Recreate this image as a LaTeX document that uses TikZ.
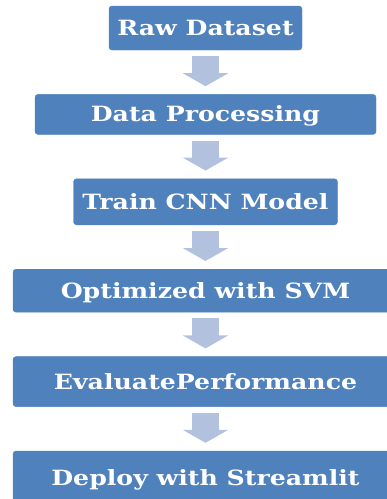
\documentclass[tikz,border=0pt]{standalone}
\usepackage{fontspec}
\setmainfont{DejaVu Serif}[FakeStretch=1.2]
\usepackage{tikz}
\usetikzlibrary{arrows.meta, positioning}
\definecolor{boxblue}{RGB}{79,129,189}
\definecolor{arrowblue}{RGB}{178,194,222}

\begin{document}
\begin{tikzpicture}[x=1pt, y=1pt, node distance=44pt]
        % --- styles ---
        \tikzstyle{stage} = [
            rectangle,
            rounded corners=3pt,
            draw=boxblue,
            fill=boxblue,
            text=white,
            font=\bfseries\fontsize{21}{25}\selectfont,
            text height=15pt,
            text depth=0pt,
            inner sep=0pt,
            align=center
        ]
        \tikzstyle{bigarrow} = [line width=27pt, arrowblue, -{Triangle[width=45pt,length=13pt]}, shorten <=6pt, shorten >=8pt]

        \useasboundingbox (0,0) rectangle (387,-499);

        % --- nodes (pipeline steps) ---
        \node (raw) [stage, minimum width=193pt, minimum height=44pt] at (205.5,-28) {Raw Dataset};
        \node (proc) [stage, minimum width=341pt, minimum height=40pt, below=of raw] {Data Processing};
        \node (cnn) [stage, minimum width=264pt, minimum height=46pt, below=of proc] {Train CNN Model};
        \node (svm) [stage, minimum width=385pt, minimum height=43pt, below=of cnn] {Optimized with SVM};
        \node (eval) [stage, minimum width=385pt, minimum height=50pt, below=of svm] {EvaluatePerformance};
        \node (deploy) [stage, minimum width=385pt, minimum height=54pt, below=of eval] {Deploy with Streamlit};

        % --- arrows ---
        \draw [bigarrow] (raw) -- (proc);
        \draw [bigarrow] (proc) -- (cnn);
        \draw [bigarrow] (cnn) -- (svm);
        \draw [bigarrow] (svm) -- (eval);
        \draw [bigarrow] (eval) -- (deploy);
    \end{tikzpicture}
\end{document}
